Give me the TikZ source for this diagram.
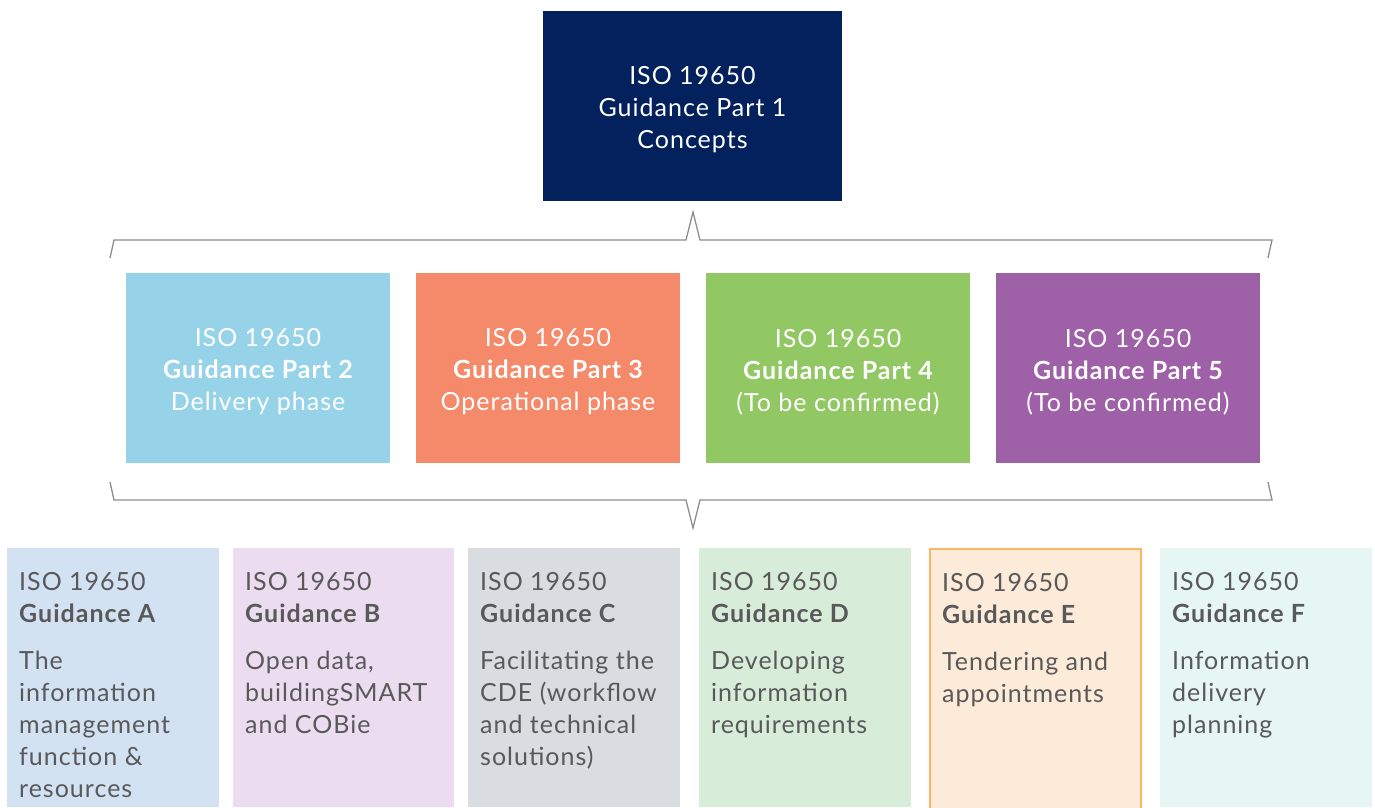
\documentclass[tikz,border=0pt]{standalone}
\usepackage{fontspec}
\setmainfont{Lato}[LetterSpace=4]
\definecolor{navy}{HTML}{03215C}
\definecolor{cblue}{HTML}{97D3E8}
\definecolor{corange}{HTML}{F58A6A}
\definecolor{cgreen}{HTML}{92C864}
\definecolor{cpurple}{HTML}{9E60A6}
\definecolor{lA}{HTML}{D3E2F3}
\definecolor{lB}{HTML}{EBDDEF}
\definecolor{lC}{HTML}{D9DCE0}
\definecolor{lD}{HTML}{D8ECDA}
\definecolor{lE}{HTML}{FDEBD9}
\definecolor{lEb}{HTML}{F9B55F}
\definecolor{lF}{HTML}{E6F6F3}
\definecolor{txtgray}{HTML}{595959}
\definecolor{brace}{HTML}{8C8C8C}
\begin{document}
\begin{tikzpicture}[x=1pt,y=-1pt,
  rbox/.style={draw=none, inner sep=0pt, outer sep=0pt, anchor=north west},
  topbox/.style={rbox, minimum width=264pt, minimum height=190pt},
  botbox/.style={rbox, minimum width=212pt, minimum height=259pt},
  ctext/.style={text=white, align=center, inner sep=0pt, font=\fontsize{25}{32}\selectfont},
  ltext/.style={text=txtgray, align=left, inner sep=0pt, anchor=north west, font=\fontsize{25}{32}\selectfont},
  bracket/.style={draw=brace, line width=1.3pt, line join=miter}]
\useasboundingbox (0,0) rectangle (1375,807);
% top
\node[rbox, fill=navy, minimum width=299pt, minimum height=190pt] (p1) at (543,11) {};
\node[ctext] (p1t) at ([yshift=-4pt]p1.center) {ISO 19650\\Guidance Part 1\\Concepts};
% top bracket
\coordinate (tb1) at (110,258);
\coordinate (tb2) at (114,240);
\coordinate (tb3) at (686,240);
\coordinate (tb4) at (693,212);
\coordinate (tb5) at (700,240);
\coordinate (tb6) at (1272,240);
\coordinate (tb7) at (1268,258);
\draw[bracket] (tb1) -- (tb2) -- (tb3) -- (tb4) -- (tb5) -- (tb6) -- (tb7);
% middle
\node[topbox, fill=cblue] (p2) at (126,273) {};
\node[topbox, fill=corange] (p3) at (416,273) {};
\node[topbox, fill=cgreen] (p4) at (706,273) {};
\node[topbox, fill=cpurple] (p5) at (996,273) {};
\node[ctext] (p2t) at ([yshift=-4pt]p2.center) {ISO 19650\\\bfseries Guidance Part 2\\Delivery phase};
\node[ctext] (p3t) at ([yshift=-4pt]p3.center) {ISO 19650\\\bfseries Guidance Part 3\\Operational phase};
\node[ctext] (p4t) at ([yshift=-4pt]p4.center) {ISO 19650\\\bfseries Guidance Part 4\\(To be confirmed)};
\node[ctext] (p5t) at ([yshift=-4pt]p5.center) {ISO 19650\\\bfseries Guidance Part 5\\(To be confirmed)};
% bottom bracket
\coordinate (bb1) at (110,482);
\coordinate (bb2) at (114,500);
\coordinate (bb3) at (686,500);
\coordinate (bb4) at (693,528);
\coordinate (bb5) at (700,500);
\coordinate (bb6) at (1272,500);
\coordinate (bb7) at (1268,482);
\draw[bracket] (bb1) -- (bb2) -- (bb3) -- (bb4) -- (bb5) -- (bb6) -- (bb7);
% bottom boxes
\node[botbox, fill=lA] (gA) at (7,548) {};
\node[botbox, fill=lB, minimum width=221pt] (gB) at (233,548) {};
\node[botbox, fill=lC] (gC) at (468,548) {};
\node[botbox, fill=lD] (gD) at (699,548) {};
\node[botbox, fill=lE, draw=lEb, line width=2pt, minimum width=211pt, minimum height=270pt] (gE) at (930,549) {};
\node[botbox, fill=lF] (gF) at (1160,548) {};
\foreach \b/\l/\d in {A/{A}/{The\\information\\management\\function \&\\resources},
                     B/{B}/{Open data,\\buildingSMART\\and COBie},
                     C/{C}/{Facilitating the\\CDE (workflow\\and technical\\solutions)},
                     D/{D}/{Developing\\information\\requirements},
                     E/{E}/{Tendering and\\appointments},
                     F/{F}/{Information\\delivery\\planning}}{
  \node[ltext] (h\b) at ([xshift=12pt,yshift=-24pt]g\b.north west) {ISO 19650\\\bfseries Guidance \l};
  \node[ltext] (d\b) at ([xshift=12pt,yshift=-103pt]g\b.north west) {\d};
}
\end{tikzpicture}
\end{document}
